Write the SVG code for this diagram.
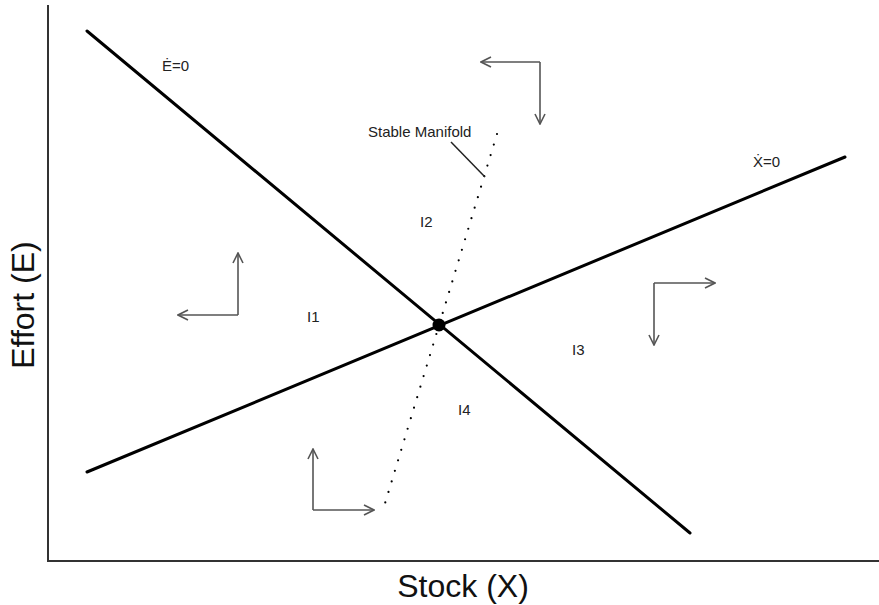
<svg xmlns="http://www.w3.org/2000/svg" width="879" height="605" viewBox="0 0 879 605">
<style>
.axis{stroke:#333;stroke-width:2;fill:none}
.iso{stroke:#000;stroke-width:3;fill:none;stroke-linecap:round}
.arr{stroke:#555;stroke-width:1.6;fill:none}
.lbl{font-family:"Liberation Sans",Arial,sans-serif;font-size:15px;fill:#222}
.big{font-family:"Liberation Sans",Arial,sans-serif;font-size:32px;fill:#111}
</style>
<defs>
<marker id="ah" viewBox="0 0 12 12" refX="11" refY="6" markerWidth="12" markerHeight="12" markerUnits="userSpaceOnUse" orient="auto">
<path d="M1,1 L11,6 L1,11" fill="none" stroke="#555" stroke-width="1.6"/>
</marker>
</defs>
<rect width="879" height="605" fill="#fff"/>
<g id="axes">
<path class="axis" d="M48,5 V561 H879"/>
<text class="big" x="463" y="597" text-anchor="middle">Stock (X)</text>
<text class="big" transform="translate(34,305) rotate(-90)" text-anchor="middle">Effort (E)</text>
</g>
<g id="connectors">
<line id="e-null" class="iso" x1="87" y1="31" x2="690" y2="533"/>
<line id="x-null" class="iso" x1="87" y1="472" x2="845" y2="157"/>
<line id="manifold" x1="497" y1="134" x2="383" y2="510" stroke="#000" stroke-width="2.2" stroke-linecap="round" stroke-dasharray="0 11"/>
<line id="leader" x1="451" y1="142" x2="485" y2="177" stroke="#222" stroke-width="1.5"/>
<g id="arrow-top"><path class="arr" d="M540,62 H481" marker-end="url(#ah)"/><path class="arr" d="M540,62 V124" marker-end="url(#ah)"/></g>
<g id="arrow-left"><path class="arr" d="M238,315 H178" marker-end="url(#ah)"/><path class="arr" d="M238,315 V253" marker-end="url(#ah)"/></g>
<g id="arrow-right"><path class="arr" d="M654,283 H715" marker-end="url(#ah)"/><path class="arr" d="M654,283 V345" marker-end="url(#ah)"/></g>
<g id="arrow-bottom"><path class="arr" d="M313,510 H374" marker-end="url(#ah)"/><path class="arr" d="M313,510 V449" marker-end="url(#ah)"/></g>
</g>
<g id="equilibrium"><circle cx="439" cy="325" r="6.5" fill="#000"/></g>
<g id="labels">
<text class="lbl" x="162" y="71">Ė=0</text>
<text class="lbl" x="753" y="167">Ẋ=0</text>
<text class="lbl" x="368" y="137">Stable Manifold</text>
<text class="lbl" x="307" y="322">I1</text>
<text class="lbl" x="420" y="227">I2</text>
<text class="lbl" x="572" y="355">I3</text>
<text class="lbl" x="458" y="415">I4</text>
</g>
</svg>
